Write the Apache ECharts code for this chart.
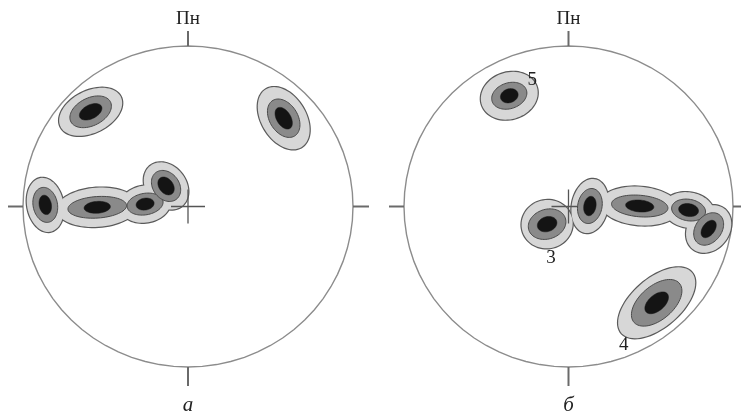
<!DOCTYPE html>
<html>
<head>
<meta charset="utf-8">
<script src="https://cdn.jsdelivr.net/npm/echarts@6/dist/echarts.min.js"></script>
<style>
  html, body { margin: 0; padding: 0; background: #fff; }
  #chart { width: 741px; height: 418px; }
</style>
</head>
<body>
<div id="chart"></div>
<script>
// стереограммы: радиус сетки = 100
// кластер: [x, y, угол, внешн.a, внешн.b, средн.a, средн.b, ядро.a, ядро.b]
const clustersA = [
  [-59, 59, 28, 20.5, 13, 13.5, 8.6, 7.4, 4.3],
  [58, 55, -60, 21, 13.5, 12.9, 8.6, 7.4, 4.3],
  [-86.5, 1, 100, 17, 11, 11, 7.4, 6.1, 3.7],
  [-55, -0.5, 4, 24.5, 12.2, 17.8, 6.7, 8, 3.7],
  [-26, 1.5, 10, 15.5, 11.5, 11, 6.7, 5.5, 3.7],
  [-13.3, 12.8, -55, 15.8, 12.2, 10.4, 8, 6.1, 4.3]
];
const clustersB = [
  [-36, 69, 20, 17.6, 14.5, 11, 8, 5.5, 4.3],
  [-13, -11, 20, 15.6, 15, 11.7, 9.2, 6.1, 4.6],
  [13, 0.3, 80, 17, 11, 11, 7.4, 6.1, 3.7],
  [43.3, 0.3, -5, 24, 12, 17.2, 6.7, 8.6, 3.7],
  [73, -2.2, -10, 15.5, 11, 10.4, 6.7, 6.1, 4],
  [85.2, -14, 55, 15.8, 12.6, 11, 8, 6.1, 3.7],
  [53.6, -60, 42, 28.5, 15, 18.4, 10.4, 8.6, 4.9]
];
const labelsB = [['5', -22, 79], ['3', -10.6, -32], ['4', 33.6, -86.3]];
const northLabel = 'Пн';
const panelNames = ['а', 'б'];

const serif = '"Liberation Serif", "DejaVu Serif", serif';

function ellipsePts(cx, cy, a, b, ang, sx, sy) {
  const pts = [];
  const r = ang * Math.PI / 180, c = Math.cos(r), s = Math.sin(r);
  for (let i = 0; i < 72; i++) {
    const t = i / 72 * 2 * Math.PI;
    const X = a * Math.cos(t), Y = b * Math.sin(t);
    pts.push([cx + (X * c - Y * s) * sx, cy - (X * s + Y * c) * sy]);
  }
  return pts;
}

// один уровень плотности для всех кластеров
function levelSeries(gi, data, level, style, z) {
  return {
    type: 'custom', xAxisIndex: gi, yAxisIndex: gi, z: z, silent: true, data: data,
    renderItem: function (params, api) {
      const p = api.coord([api.value(0), api.value(1)]);
      const sz = api.size([1, 1]);
      const a = api.value(3 + level * 2), b = api.value(4 + level * 2);
      return {
        type: 'polygon',
        shape: { points: ellipsePts(p[0], p[1], a, b, api.value(2), sz[0], sz[1]) },
        style: style
      };
    }
  };
}

// круг, засечки, подписи
function frameSeries(gi, name) {
  return {
    type: 'custom', xAxisIndex: gi, yAxisIndex: gi, z: 1, silent: true, data: [[0, 0]],
    renderItem: function (params, api) {
      const c = api.coord([0, 0]);
      const sz = api.size([100, 100]);
      const rx = sz[0], ry = sz[1];
      const tick = { stroke: '#6a6a6a', lineWidth: 2 };
      return {
        type: 'group',
        children: [
          { type: 'polygon', shape: { points: ellipsePts(c[0], c[1], 1, 1, 0, rx, ry) },
            style: { fill: 'none', stroke: '#8c8c8c', lineWidth: 1.4 } },
          { type: 'line', shape: { x1: c[0], y1: c[1] - ry, x2: c[0], y2: c[1] - ry - 15 }, style: tick },
          { type: 'line', shape: { x1: c[0], y1: c[1] + ry, x2: c[0], y2: c[1] + ry + 19 }, style: tick },
          { type: 'line', shape: { x1: c[0] - rx, y1: c[1], x2: c[0] - rx - 15, y2: c[1] }, style: tick },
          { type: 'line', shape: { x1: c[0] + rx, y1: c[1], x2: c[0] + rx + 16, y2: c[1] }, style: tick },
          { type: 'text', x: c[0], y: c[1] - ry - 17,
            style: { text: northLabel, fontSize: 19, fontFamily: serif, fill: '#222', align: 'center', verticalAlign: 'bottom' } },
          { type: 'text', x: c[0], y: c[1] + ry + 49,
            style: { text: name, fontSize: 21, fontStyle: 'italic', fontFamily: serif, fill: '#222', align: 'center', verticalAlign: 'bottom' } }
        ]
      };
    }
  };
}

function crossSeries(gi) {
  return {
    type: 'custom', xAxisIndex: gi, yAxisIndex: gi, z: 4, silent: true, data: [[0, 0]],
    renderItem: function (params, api) {
      const c = api.coord([0, 0]);
      const st = { stroke: '#555', lineWidth: 1.3 };
      return {
        type: 'group',
        children: [
          { type: 'line', shape: { x1: c[0] - 17, y1: c[1], x2: c[0] + 17, y2: c[1] }, style: st },
          { type: 'line', shape: { x1: c[0], y1: c[1] - 17, x2: c[0], y2: c[1] + 17 }, style: st }
        ]
      };
    }
  };
}

function clusterSeries(gi, data) {
  return [
    levelSeries(gi, data, 0, { fill: '#d7d7d7', stroke: '#5a5a5a', lineWidth: 2.4 }, 2),
    levelSeries(gi, data, 0, { fill: '#d7d7d7', lineWidth: 0 }, 3),
    levelSeries(gi, data, 1, { fill: '#8a8a8a', stroke: '#4a4a4a', lineWidth: 1 }, 5),
    levelSeries(gi, data, 2, { fill: '#141414', stroke: '#141414', lineWidth: 0.5 }, 6)
  ];
}

const numberSeries = {
  type: 'custom', xAxisIndex: 1, yAxisIndex: 1, z: 7, silent: true,
  data: labelsB.map(function (d) { return [d[1], d[2]]; }),
  renderItem: function (params, api) {
    const p = api.coord([api.value(0), api.value(1)]);
    return {
      type: 'text', x: p[0], y: p[1],
      style: { text: labelsB[params.dataIndex][0], fontSize: 19, fontFamily: serif, fill: '#222', align: 'center', verticalAlign: 'middle' }
    };
  }
};

const axis = { min: -100, max: 100, show: false };

const chart = echarts.init(document.getElementById('chart'));
chart.setOption({
  animation: false,
  grid: [
    { left: 23, top: 46, width: 330, height: 321 },
    { left: 404, top: 46, width: 329, height: 321 }
  ],
  xAxis: [Object.assign({ gridIndex: 0 }, axis), Object.assign({ gridIndex: 1 }, axis)],
  yAxis: [Object.assign({ gridIndex: 0 }, axis), Object.assign({ gridIndex: 1 }, axis)],
  series: [
    frameSeries(0, panelNames[0]),
    frameSeries(1, panelNames[1]),
    crossSeries(0),
    crossSeries(1)
  ].concat(clusterSeries(0, clustersA), clusterSeries(1, clustersB), [numberSeries])
});
</script>
</body>
</html>
